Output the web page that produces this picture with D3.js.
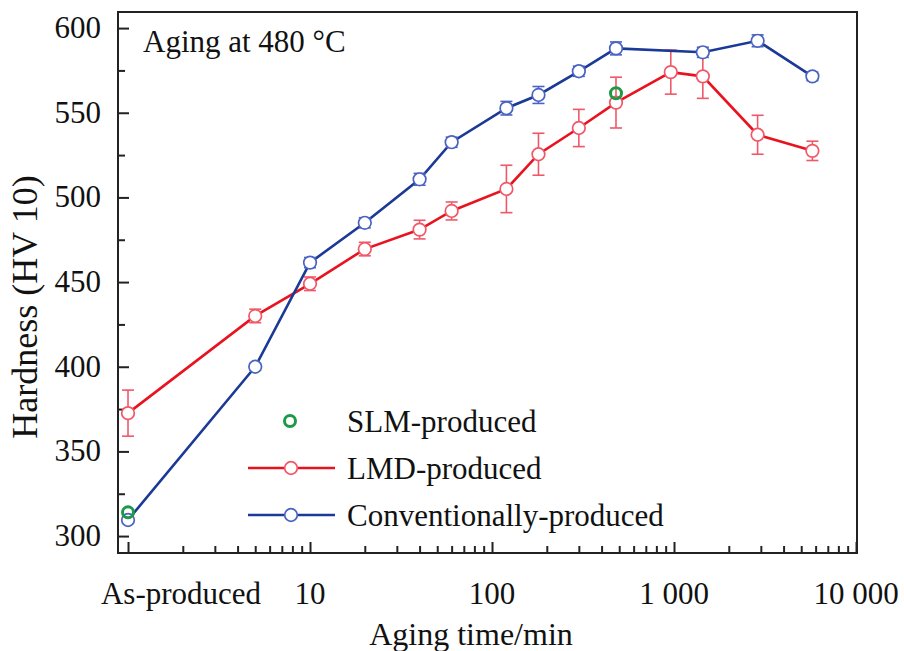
<!DOCTYPE html>
<html>
<head>
<meta charset="utf-8">
<script src="https://cdn.jsdelivr.net/npm/d3@7"></script>
<style>
  body { margin: 0; background: #fff; }
  text { font-family: "Liberation Serif", "Times New Roman", serif; fill: #111; }
</style>
</head>
<body>
<svg id="chart" width="904" height="651"></svg>
<script>
// aging time in minutes; "As-produced" sits at 1 min on the log axis
var lmdTime = [1, 5, 10, 20, 40, 60, 120, 180, 300, 480, 960, 1440, 2880, 5760];
var lmdHv   = [372.6, 430, 449, 469.5, 481, 492, 505, 525.5, 541, 556, 574, 571.5, 537, 527.5];
var lmdErr  = [13.6, 4, 4, 4, 5.5, 5.3, 14, 12.4, 11, 15, 13, 13, 11.5, 5.7];

var convTime = [1, 5, 10, 20, 40, 60, 120, 180, 300, 480, 1440, 2880, 5760];
var convHv   = [309.5, 400, 461.5, 485, 510.7, 532.6, 552.7, 560.5, 574.5, 588, 585.7, 592.5, 571.5];
var convErr  = [1.5, 2, 3, 3, 3.5, 3, 4, 5, 3, 3.8, 3, 3.5, 2.5];

var slmTime = [1, 480];
var slmHv   = [314, 561.5];

var xMajor = [1, 10, 100, 1000, 10000];
var xMajorLabels = ["As-produced", "10", "100", "1 000", "10 000"];
var yMajor = [300, 350, 400, 450, 500, 550, 600];
var yMinor = [325, 375, 425, 475, 525, 575];

var svg = d3.select("#chart");
var pLeft = 118, pRight = 857, pTop = 12, pBottom = 553;

var x = d3.scaleLog().domain([0.881, 10127]).range([pLeft, pRight]);
var y = d3.scaleLinear().domain([290, 609.5]).range([pBottom, pTop]);

var RED_LINE = "#e8131f", RED_MARK = "#f05868";
var BLUE_LINE = "#1b3996", BLUE_MARK = "#4a63c2";
var GREEN = "#1c9a46";

// minor x ticks 2..9 per decade
var xMinor = [];
for (var d = 1; d < 10000; d *= 10) {
	for (var k = 2; k <= 9; k++) xMinor.push(d * k);
}

// frame
svg.append("rect").attr("x", pLeft).attr("y", pTop)
	.attr("width", pRight - pLeft).attr("height", pBottom - pTop)
	.attr("fill", "none").attr("stroke", "#222").attr("stroke-width", 2);

// bottom axis, ticks pointing inward
var xAxisMajor = d3.axisBottom(x).tickValues(xMajor).tickSize(-11).tickFormat("");
var xAxisMinor = d3.axisBottom(x).tickValues(xMinor).tickSize(-7).tickFormat("");
[xAxisMajor, xAxisMinor].forEach(function(ax){
	var g = svg.append("g").attr("transform", "translate(0," + pBottom + ")").call(ax);
	g.select(".domain").remove();
	g.selectAll("line").attr("stroke", "#222").attr("stroke-width", 2);
});

svg.selectAll(".xlab").data(xMajor).enter().append("text")
	.attr("class", "xlab")
	.attr("x", function(d){ return x(d) + (d === 1 ? 53 : 0); })
	.attr("y", 604)
	.attr("text-anchor", "middle")
	.attr("font-size", 31)
	.text(function(d, i){ return xMajorLabels[i]; });

// left axis, ticks pointing inward
var yAxisMajor = d3.axisLeft(y).tickValues(yMajor).tickSize(-11).tickFormat("");
var yAxisMinor = d3.axisLeft(y).tickValues(yMinor).tickSize(-7).tickFormat("");
[yAxisMajor, yAxisMinor].forEach(function(ax){
	var g = svg.append("g").attr("transform", "translate(" + pLeft + ",0)").call(ax);
	g.select(".domain").remove();
	g.selectAll("line").attr("stroke", "#222").attr("stroke-width", 2);
});

svg.selectAll(".ylab").data(yMajor).enter().append("text")
	.attr("class", "ylab")
	.attr("x", 101)
	.attr("y", function(d){ return y(d) + 10; })
	.attr("text-anchor", "end")
	.attr("font-size", 31)
	.text(function(d){ return d; });

// axis titles
svg.append("text").attr("x", 471).attr("y", 645).attr("text-anchor", "middle")
	.attr("font-size", 32).text("Aging time/min");
svg.append("text").attr("transform", "translate(37,307) rotate(-90)")
	.attr("text-anchor", "middle").attr("font-size", 36).text("Hardness (HV 10)");

svg.append("text").attr("x", 143).attr("y", 52).attr("font-size", 31).text("Aging at 480 \u00B0C");

// series
function drawSeries(times, vals, errs, lineCol, markCol) {
	var pts = times.map(function(t, i){ return { t: t, v: vals[i], e: errs[i] }; });
	var line = d3.line().x(function(d){ return x(d.t); }).y(function(d){ return y(d.v); });
	svg.append("path").datum(pts).attr("d", line)
		.attr("fill", "none").attr("stroke", lineCol).attr("stroke-width", 2.6);

	var eb = svg.append("g").attr("stroke", markCol).attr("stroke-width", 1.6).attr("fill", "none");
	pts.forEach(function(p){
		var cx = x(p.t), y1 = y(p.v + p.e), y2 = y(p.v - p.e);
		eb.append("line").attr("x1", cx).attr("x2", cx).attr("y1", y1).attr("y2", y2);
		eb.append("line").attr("x1", cx - 6).attr("x2", cx + 6).attr("y1", y1).attr("y2", y1);
		eb.append("line").attr("x1", cx - 6).attr("x2", cx + 6).attr("y1", y2).attr("y2", y2);
	});

	svg.append("g").selectAll("circle").data(pts).enter().append("circle")
		.attr("cx", function(d){ return x(d.t); })
		.attr("cy", function(d){ return y(d.v); })
		.attr("r", 6.3)
		.attr("fill", "#fff").attr("stroke", markCol).attr("stroke-width", 1.7);
}

drawSeries(lmdTime, lmdHv, lmdErr, RED_LINE, RED_MARK);
drawSeries(convTime, convHv, convErr, BLUE_LINE, BLUE_MARK);

svg.append("g").selectAll("circle").data(slmTime).enter().append("circle")
	.attr("cx", function(d){ return x(d); })
	.attr("cy", function(d, i){ return y(slmHv[i]); })
	.attr("r", 5.5)
	.attr("fill", "none").attr("stroke", GREEN).attr("stroke-width", 3);

// legend
var legend = [
	{ name: "SLM-produced", line: null, mark: GREEN, y: 421 },
	{ name: "LMD-produced", line: RED_LINE, mark: RED_MARK, y: 468 },
	{ name: "Conventionally-produced", line: BLUE_LINE, mark: BLUE_MARK, y: 515 }
];
legend.forEach(function(l){
	if (l.line) {
		svg.append("line").attr("x1", 248).attr("x2", 335).attr("y1", l.y).attr("y2", l.y)
			.attr("stroke", l.line).attr("stroke-width", 2.6);
		svg.append("circle").attr("cx", 291).attr("cy", l.y).attr("r", 6.3)
			.attr("fill", "#fff").attr("stroke", l.mark).attr("stroke-width", 1.7);
	} else {
		svg.append("circle").attr("cx", 290).attr("cy", l.y).attr("r", 5.5)
			.attr("fill", "none").attr("stroke", l.mark).attr("stroke-width", 3);
	}
	svg.append("text").attr("x", 347).attr("y", l.y + 11).attr("font-size", 31).text(l.name);
});
</script>
</body>
</html>
